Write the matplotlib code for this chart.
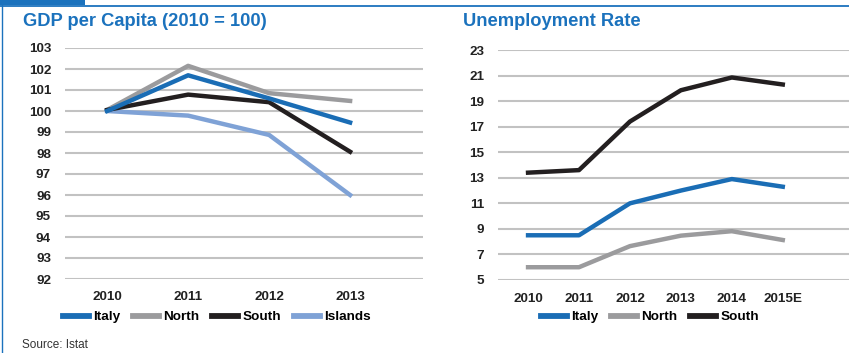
import matplotlib.pyplot as plt
from matplotlib.lines import Line2D
from matplotlib.patches import Rectangle

plt.rcParams['font.family'] = ['Liberation Sans', 'DejaVu Sans']

# GDP per capita, index 2010 = 100
gdp_years = ["2010", "2011", "2012", "2013"]
gdp_italy = [100.0, 101.7, 100.6, 99.45]
gdp_north = [100.05, 102.15, 100.85, 100.48]
gdp_south = [100.05, 100.78, 100.42, 98.06]
gdp_islands = [100.0, 99.78, 98.86, 96.0]

# unemployment rate, %
unemp_years = ["2010", "2011", "2012", "2013", "2014", "2015E"]
unemp_italy = [8.5, 8.5, 11.0, 12.0, 12.9, 12.3]
unemp_north = [6.0, 6.0, 7.65, 8.47, 8.82, 8.13]
unemp_south = [13.4, 13.6, 17.4, 19.85, 20.85, 20.3]

BLUE = "#1a6db5"
GREY = "#9b9b9d"
BLACK = "#231f20"
LIGHT = "#7fa2d6"
TITLE = "#1b72bd"
GRID = "#c2c2c2"

W, H = 849, 353
fig = plt.figure(figsize=(W / 100, H / 100), dpi=100)


def box(x0, y0, x1, y1):
    # pixel box (top-left origin) -> figure fraction rect
    return [x0 / W, 1 - y1 / H, (x1 - x0) / W, (y1 - y0) / H]


def style(ax, ticks):
    ax.set_yticks(ticks)
    ax.grid(axis="y", color=GRID, lw=1.5)
    ax.set_axisbelow(True)
    for s in ax.spines.values():
        s.set_visible(False)
    ax.tick_params(length=0, labelsize=9.7, colors="#222222")
    ax.tick_params(axis="y", pad=10)
    ax.tick_params(axis="x", pad=9)
    for lab in ax.get_xticklabels() + ax.get_yticklabels():
        lab.set_fontweight("bold")


def add_legend(ax, x0):
    leg = ax.legend(loc="upper left", bbox_to_anchor=(x0 / W, 1 - 311 / H),
                    bbox_transform=fig.transFigure, ncol=4, frameon=False,
                    handlelength=1.9, handletextpad=0.3, columnspacing=1.0,
                    prop={"weight": "bold", "size": 9.7}, borderaxespad=0,
                    borderpad=0)
    for h in leg.get_lines():
        h.set_linewidth(4.2)


# left panel
ax1 = fig.add_axes(box(65, 48, 423, 279))
x = range(len(gdp_years))
ax1.plot(x, gdp_italy, color=BLUE, lw=3.2, label="Italy", zorder=4)
ax1.plot(x, gdp_north, color=GREY, lw=3.2, label="North", zorder=3)
ax1.plot(x, gdp_south, color=BLACK, lw=3.2, label="South", zorder=3)
ax1.plot(x, gdp_islands, color=LIGHT, lw=3.2, label="Islands", zorder=2)
ax1.set_xticks(list(x))
ax1.set_xticklabels(gdp_years)
ax1.set_xlim(-0.52, 3.9)
ax1.set_ylim(92, 103)
style(ax1, range(92, 104))
add_legend(ax1, 63)

# right panel
ax2 = fig.add_axes(box(498, 50, 849, 280))
x2 = range(len(unemp_years))
ax2.plot(x2, unemp_italy, color=BLUE, lw=3.2, label="Italy")
ax2.plot(x2, unemp_north, color=GREY, lw=3.2, label="North")
ax2.plot(x2, unemp_south, color=BLACK, lw=3.2, label="South")
ax2.set_xticks(list(x2))
ax2.set_xticklabels(unemp_years)
ax2.set_xlim(-0.59, 6.3)
ax2.set_ylim(5, 23)
style(ax2, range(5, 24, 2))
add_legend(ax2, 541)

# titles and source
fig.text(23 / W, 1 - 22 / H, "GDP per Capita (2010 = 100)", color=TITLE,
         fontsize=13.2, fontweight="bold", va="center")
fig.text(463 / W, 1 - 22 / H, "Unemployment Rate", color=TITLE,
         fontsize=13.2, fontweight="bold", va="center")
fig.text(22 / W, 1 - 345 / H, "Source: Istat", color="#333333",
         fontsize=8.5, va="center")

# frame: top rule, tab and left rule
fig.add_artist(Line2D([0, 1], [1 - 5.5 / H, 1 - 5.5 / H], color=TITLE, lw=1.3))
fig.add_artist(Rectangle((0, 1 - 5 / H), 85 / W, 5 / H, color=TITLE, lw=0))
fig.add_artist(Line2D([2 / W, 2 / W], [0, 1 - 5 / H], color=TITLE, lw=1.0))

fig.savefig("out.png", dpi=100)
